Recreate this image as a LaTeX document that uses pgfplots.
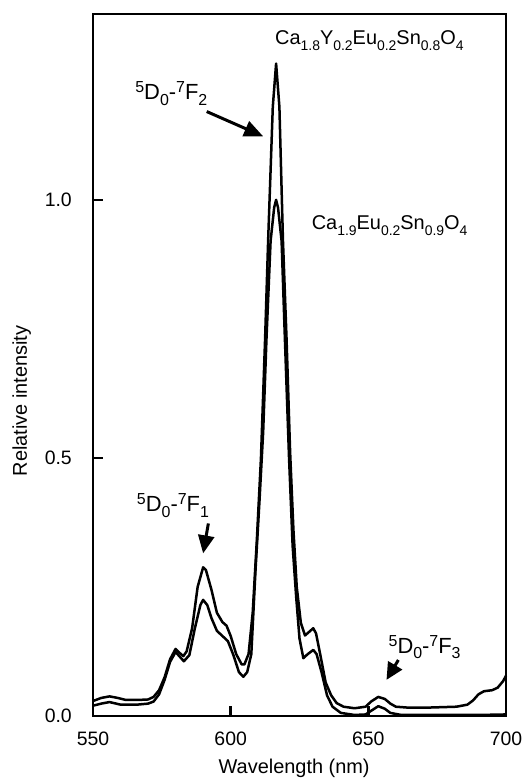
\documentclass[border=0pt]{standalone}
\usepackage{pgfplots}
\pgfplotsset{compat=1.18}
\usepackage{fontspec}
\setmainfont{Liberation Sans}
\usetikzlibrary{arrows.meta}
\newcommand\sbA[1]{\raisebox{-5.5bp}{\fontsize{14}{14}\selectfont #1}}
\newcommand\sbB[1]{\raisebox{-5.5bp}{\fontsize{16}{16}\selectfont #1}}
\newcommand\spB[1]{\raisebox{7bp}{\fontsize{16}{16}\selectfont #1}}
\begin{document}
\begin{tikzpicture}
\useasboundingbox (0,0) rectangle (523bp,778bp);
\begin{axis}[
  at={(93bp,62bp)}, anchor=south west,
  scale only axis, width=413bp, height=702bp,
  xmin=550, xmax=700, ymin=0, ymax=1.36,
  xtick={550,600,650,700}, ytick={0,0.5,1.0},
  xtick pos=bottom, ytick pos=left,
  tick align=inside, major tick length=10bp,
  axis line style={line width=2.5bp},
  every tick/.style={black, line width=2.5bp},
  /pgf/number format/assume math mode=true,
  ticklabel style={font=\fontsize{19.5}{19.5}\selectfont, inner sep=0pt},
  yticklabel style={/pgf/number format/.cd, fixed, fixed zerofill, precision=1, /tikz/.cd, anchor=east, xshift=-21bp},
  xticklabel style={anchor=north, yshift=-16bp},
  xlabel={Wavelength (nm)},
  ylabel={Relative intensity},
  label style={font=\fontsize{20}{20}\selectfont, inner sep=0pt},
  xlabel style={at={(axis description cs:0.487,0)}, anchor=base, yshift=-57bp},
  ylabel style={at={(axis description cs:-0.16,0.449)}, anchor=base},
  clip=false,
]
% Ca1.8Y0.2Eu0.2Sn0.8O4
\addplot[black, line width=2.5bp, line join=round] coordinates {
(550,0.029) (553,0.035) (556,0.038) (559,0.035) (562,0.031) (566,0.031) (570,0.032)
(572,0.037) (574,0.050) (576,0.075) (578,0.110) (580,0.130) (581.5,0.122) (582.8,0.116)
(584,0.125) (586,0.170) (588,0.250) (590,0.288) (591,0.283) (593,0.245) (595,0.200)
(597,0.182) (598.5,0.175) (600,0.155) (602,0.120) (604,0.100) (605,0.100) (606.5,0.120)
(608,0.200) (609.5,0.340) (611,0.500) (612.5,0.730) (613.6,0.920) (615.3,1.180)
(616.5,1.264) (617.7,1.180) (619,0.920) (620.3,0.730) (621.6,0.510) (622.8,0.360)
(624,0.250) (625.5,0.180) (627,0.156) (628.5,0.163) (630,0.170) (631,0.160) (632.5,0.120)
(634.5,0.065) (636.5,0.040) (638.5,0.025) (641,0.018) (645,0.015) (649,0.018) (651,0.028)
(653.6,0.037) (656,0.033) (658,0.024) (660,0.018) (665,0.016) (670,0.016) (676,0.017)
(682,0.018) (686,0.022) (688,0.030) (690,0.042) (692,0.048) (695,0.050) (697,0.055)
(699,0.068) (700,0.078)
};
% Ca1.9Eu0.2Sn0.9O4
\addplot[black, line width=2.5bp, line join=round] coordinates {
(550,0.020) (553,0.024) (556,0.027) (560,0.022) (566,0.022) (570,0.024) (572,0.028)
(574,0.042) (576,0.070) (578,0.105) (580,0.124) (581.5,0.115) (583,0.106) (585,0.118)
(587,0.170) (589,0.215) (590,0.225) (591.5,0.215) (593,0.190) (595,0.165) (597,0.155)
(599,0.145) (601,0.118) (603,0.085) (604.6,0.076) (606,0.085) (607.5,0.120) (609,0.280)
(610.5,0.420) (611.8,0.550) (613,0.730) (614.5,0.920) (615.8,0.985) (616.5,1.000)
(617.2,0.985) (618.5,0.920) (619.7,0.730) (621.2,0.500) (622.5,0.330) (623.8,0.230)
(625,0.150) (626.4,0.112) (628,0.120) (630,0.128) (631.2,0.120) (633,0.085) (635,0.040)
(637,0.018) (640,0.006) (645,0.002) (649,0.003) (651,0.010) (653.6,0.019) (656,0.014)
(658,0.006) (662,0.002) (670,0.002) (690,0.002) (700,0.003)
};
\node[anchor=base west, inner sep=0pt, font=\fontsize{20}{20}\selectfont]
  at (axis cs:616.1,1.300) {Ca\sbA{1.8}Y\sbA{0.2}Eu\sbA{0.2}Sn\sbA{0.8}O\sbA{4}};
\node[anchor=base west, inner sep=0pt, font=\fontsize{20}{20}\selectfont]
  at (axis cs:629.4,0.942) {Ca\sbA{1.9}Eu\sbA{0.2}Sn\sbA{0.9}O\sbA{4}};
\node[anchor=base west, inner sep=0pt, font=\fontsize{22}{22}\selectfont]
  at (axis cs:565.3,1.194) {\spB{5}D\sbB{0}-\spB{7}F\sbB{2}};
\node[anchor=base west, inner sep=0pt, font=\fontsize{22}{22}\selectfont]
  at (axis cs:565.9,0.396) {\spB{5}D\sbB{0}-\spB{7}F\sbB{1}};
\node[anchor=base west, inner sep=0pt, font=\fontsize{22}{22}\selectfont]
  at (axis cs:657.3,0.1215) {\spB{5}D\sbB{0}-\spB{7}F\sbB{3}};
\draw[line width=3bp, -{Triangle[length=19bp,width=16bp]}] (axis cs:591.3,1.171) -- (axis cs:611.8,1.123);
\draw[line width=3bp, -{Triangle[length=18bp,width=16bp]}] (axis cs:591.9,0.373) -- (axis cs:590.0,0.315);
\draw[line width=3bp, -{Triangle[length=17bp,width=16bp]}] (axis cs:660.9,0.1085) -- (axis cs:656.6,0.070);
\end{axis}
\end{tikzpicture}
\end{document}
